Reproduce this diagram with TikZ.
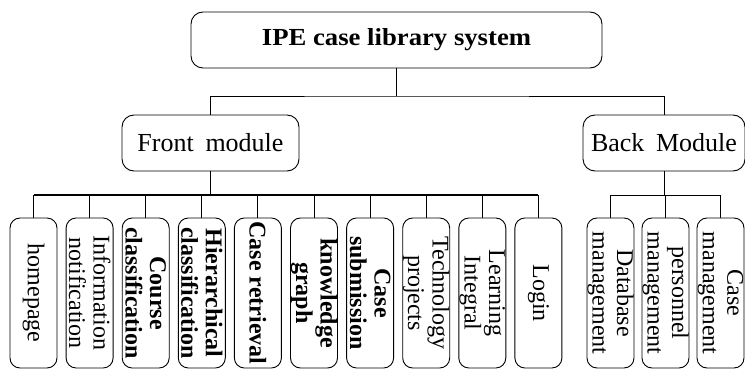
\documentclass[tikz,border=0pt]{standalone}
\usepackage{fontspec}
\usepackage{graphicx}
\setmainfont{Liberation Serif}
\begin{document}
\begin{tikzpicture}[x=1pt,y=-1pt,
  box/.style={draw,line width=0.9pt,rounded corners=12pt,inner sep=0pt},
  kid/.style={draw,line width=0.9pt,rounded corners=10pt,inner sep=0pt,
    minimum width=150pt,minimum height=47pt,rotate=-90,align=center,
    font=\fontsize{24}{24.5}\selectfont},
  boldkid/.style={kid,font=\bfseries\fontsize{24}{24.5}\selectfont},
  conn/.style={line width=0.9pt},
  thick conn/.style={line width=1.6pt}]
\useasboundingbox (0,0) rectangle (745,369);
\node[box,minimum width=411pt,minimum height=56pt,font=\bfseries\fontsize{24.5}{26}\selectfont] (top) at (396.5,40) {\scalebox{1.09}[1]{IPE case library system}};
\node[box,minimum width=177pt,minimum height=56pt,font=\fontsize{26}{28}\selectfont] (front) at (210.5,143) {Front\hspace{0.45em}module};
\node[box,minimum width=162pt,minimum height=56pt,font=\fontsize{26}{28}\selectfont] (back) at (664,143) {Back\hspace{0.45em}Module};
% front children
\node[kid] (c1) at (33.5,293) {homepage};
\node[kid] (c2) at (89.6,293) {Information\\notification};
\node[boldkid] (c3) at (145.7,293) {Course\\classification};
\node[boldkid] (c4) at (201.8,293) {Hierarchical\\classification};
\node[boldkid] (c5) at (257.9,293) {Case retrieval};
\node[boldkid] (c6) at (314,293) {knowledge\\graph};
\node[boldkid] (c7) at (370.1,293) {Case\\submission};
\node[kid] (c8) at (426.2,293) {Technology\\projects};
\node[kid] (c9) at (482.3,293) {Learning\\Integral};
\node[kid] (c10) at (538.4,293) {Login};
% back children
\node[kid] (d1) at (610.5,293) {Database\\management};
\node[kid] (d2) at (665.5,293) {personnel\\management};
\node[kid] (d3) at (720.5,293) {Case\\management};
% connectors top level
\coordinate (tb) at (top.south |- 0,96);
\draw[conn] (top.south) -- (tb);
\draw[conn] (front.north) |- (tb) -| (back.north);
% front bus
\coordinate (fb) at (front.south |- 0,195);
\draw[thick conn] (front.south) -- (fb);
\draw[thick conn] (c1.west |- fb) -- (c10.west |- fb);
\foreach \c in {c1,c2,c3,c4,c5,c6,c7,c8,c9,c10}
  \draw[conn] (\c.west |- fb) -- (\c.west);
% back bus
\coordinate (bb) at (back.south |- 0,195);
\draw[conn] (back.south) -- (bb);
\draw[conn] (d1.west |- bb) -- (d3.west |- bb);
\foreach \c in {d1,d2,d3}
  \draw[conn] (\c.west |- bb) -- (\c.west);
\end{tikzpicture}
\end{document}
